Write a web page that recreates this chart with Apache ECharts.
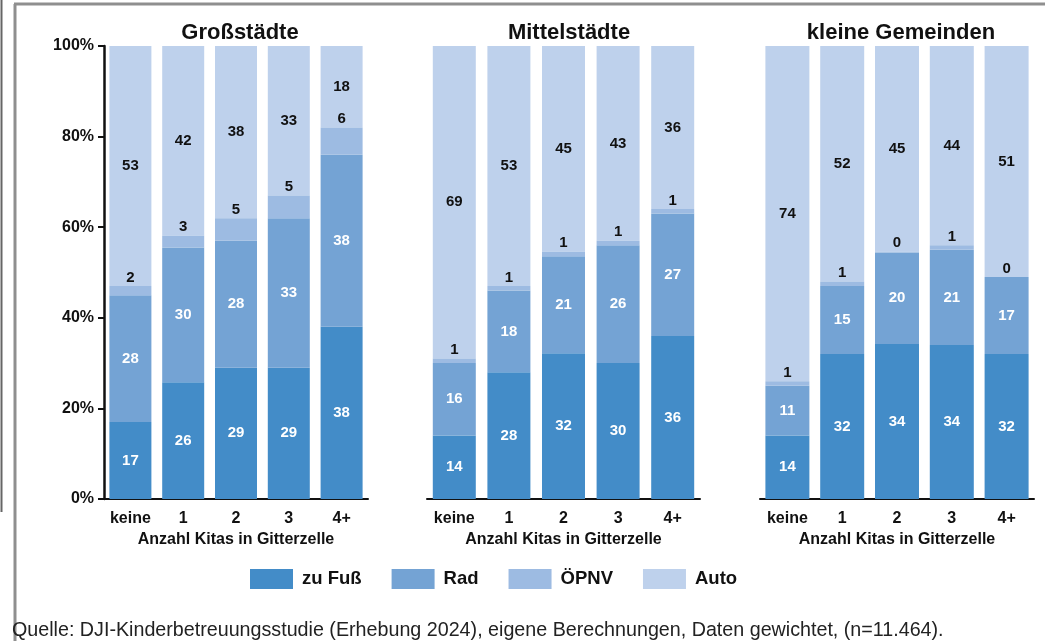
<!DOCTYPE html>
<html>
<head>
<meta charset="utf-8">
<script src="https://cdn.jsdelivr.net/npm/echarts@6/dist/echarts.min.js"></script>
<style>
  html, body { margin: 0; padding: 0; background: #fff; }
  #chart { width: 1045px; height: 641px; }
</style>
</head>
<body>
<div id="chart"></div>
<script>
// Kategorien und Daten (Anteile in %, Beschriftung gerundet)
const categories = ['keine', '1', '2', '3', '4+'];
const panels = ['Großstädte', 'Mittelstädte', 'kleine Gemeinden'];
const modes = ['zu Fuß', 'Rad', 'ÖPNV', 'Auto'];

const grossFuss = [17, 25.8, 29, 29, 38];
const grossRad = [28, 29.7, 28, 33, 38];
const grossOepnv = [2, 2.6, 5, 5, 6];
const grossAuto = [53, 41.9, 38, 33, 18];

const mittelFuss = [14, 28, 32.2, 30, 36];
const mittelRad = [16, 18, 21.4, 26, 27];
const mittelOepnv = [1, 1, 1, 1, 1];
const mittelAuto = [69, 53, 45.4, 43, 36];

const kleinFuss = [14, 32, 34.2, 34, 32];
const kleinRad = [11, 15, 20.2, 21, 17];
const kleinOepnv = [1, 1, 0.2, 1, 0];
const kleinAuto = [74, 52, 45.4, 44, 51];

const panelData = [
  [grossFuss, grossRad, grossOepnv, grossAuto],
  [mittelFuss, mittelRad, mittelOepnv, mittelAuto],
  [kleinFuss, kleinRad, kleinOepnv, kleinAuto],
];

const colors = ['#438cc8', '#74a3d4', '#9dbbe2', '#bed1ec'];
const font = '"Liberation Sans", Arial, sans-serif';

// Lage der drei Teildiagramme
const grids = [
  { left: 104, width: 264, top: 46, height: 453 },
  { left: 427, width: 273, top: 46, height: 453 },
  { left: 760, width: 274, top: 46, height: 453 },
];
const titleX = [235, 564, 896];
const barWidths = [42, 43, 44];

const chart = echarts.init(document.getElementById('chart'));

const fmt = (p) => Math.round(p.value);

const series = [];
panelData.forEach((rows, p) => {
  rows.forEach((vals, m) => {
    const label = {
      show: true,
      position: m === 2 ? 'top' : 'inside',
      distance: m === 2 ? 1 : 5,
      color: m < 2 ? '#fff' : '#111',
      fontWeight: 'bold',
      fontSize: 15,
      fontFamily: font,
      formatter: fmt,
    };
    series.push({
      name: modes[m],
      type: 'bar',
      stack: 'p' + p,
      xAxisIndex: p,
      yAxisIndex: p,
      barWidth: barWidths[p],
      data: vals,
      itemStyle: { color: colors[m] },
      label: label,
      z: m === 2 ? 3 : 2,
    });
  });
});

chart.setOption({
  animation: false,
  textStyle: { fontFamily: font },
  title: panels.map((t, i) => ({
    text: t,
    left: titleX[i],
    textAlign: 'center',
    top: 17,
    textStyle: { fontSize: 22, fontWeight: 'bold', color: '#111', fontFamily: font },
  })),
  legend: {
    data: modes,
    left: 245,
    top: 564,
    itemWidth: 43,
    itemHeight: 20,
    itemGap: 30,
    icon: 'rect',
    textStyle: { fontSize: 18.5, fontWeight: 'bold', color: '#111', fontFamily: font, padding: [0, 0, 0, 4] },
  },
  grid: grids,
  xAxis: grids.map((g, i) => ({
    type: 'category',
    gridIndex: i,
    data: categories,
    axisLine: { lineStyle: { color: '#111', width: 2 } },
    axisTick: { show: false },
    axisLabel: { interval: 0, color: '#111', fontWeight: 'bold', fontSize: 16, margin: 12 },
    name: 'Anzahl Kitas in Gitterzelle',
    nameLocation: 'middle',
    nameGap: 31,
    nameTextStyle: { color: '#111', fontWeight: 'bold', fontSize: 16 },
  })),
  yAxis: grids.map((g, i) => ({
    type: 'value',
    gridIndex: i,
    min: 0,
    max: 100,
    interval: 20,
    splitLine: { show: false },
    axisLine: { show: i === 0, lineStyle: { color: '#111', width: 2.5 } },
    axisTick: { show: i === 0, length: 6, lineStyle: { color: '#111', width: 2 } },
    axisLabel: {
      show: i === 0,
      color: '#111',
      fontWeight: 'bold',
      fontSize: 16,
      margin: 10,
      formatter: '{value}%',
    },
  })),
  graphic: [
    { type: 'line', shape: { x1: 1.5, y1: 0, x2: 1.5, y2: 512 }, style: { stroke: '#666', lineWidth: 2 } },
    { type: 'line', shape: { x1: 15, y1: 4, x2: 15, y2: 641 }, style: { stroke: '#8f8f8f', lineWidth: 3 } },
    { type: 'line', shape: { x1: 14, y1: 4, x2: 1045, y2: 4 }, style: { stroke: '#8f8f8f', lineWidth: 3 } },
    {
      type: 'text',
      left: 12,
      top: 621,
      style: {
        text: 'Quelle: DJI-Kinderbetreuungsstudie (Erhebung 2024), eigene Berechnungen, Daten gewichtet, (n=11.464).',
        font: '19.7px ' + font,
        fill: '#222',
      },
    },
  ],
  series: series,
});
</script>
</body>
</html>
